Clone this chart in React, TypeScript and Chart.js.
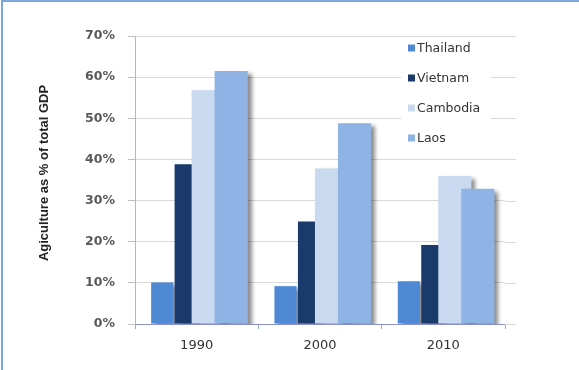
import React, { useEffect, useRef } from "react";
import { Chart, registerables } from "chart.js";

Chart.register(...registerables);

const categories = ["1990", "2000", "2010"];
const seriesNames = ["Thailand", "Vietnam", "Cambodia", "Laos"];
const thailand = [10.1, 9.2, 10.4];
const vietnam = [38.8, 24.9, 19.2];
const cambodia = [56.8, 37.8, 36.0];
const laos = [61.5, 48.8, 32.9];
const seriesColors = ["#4f89d4", "#1b3a6c", "#c8d9f0", "#8fb3e5"];
const yTitle = "Agiculture as % of total GDP";
const yMin = 0;
const yMax = 70;
const yStep = 10;

const FONT = "'DejaVu Sans', sans-serif";

const customDraw = {
  id: "customDraw",
  beforeDatasetsDraw(chart: any) {
    const { ctx, chartArea, scales } = chart;
    const y = scales.y;
    ctx.save();
    ctx.strokeStyle = "#d9d9d9";
    ctx.lineWidth = 1;
    y.ticks.forEach((t: any) => {
      const py = Math.round(y.getPixelForValue(t.value)) + 0.5;
      ctx.beginPath();
      ctx.moveTo(chartArea.right, py);
      ctx.lineTo(chartArea.right + 11, py);
      ctx.stroke();
    });
    ctx.fillStyle = "#ffffff";
    ctx.fillRect(chartArea.right - 104, chartArea.top + 3, 90, 114);
    ctx.restore();
  },
  beforeDatasetDraw() {
    return false;
  },
  afterDatasetsDraw(chart: any) {
    const { ctx, chartArea } = chart;
    ctx.save();
    ctx.beginPath();
    ctx.rect(chartArea.left, chartArea.top - 5, chartArea.right - chartArea.left + 20, chartArea.bottom - chartArea.top + 5);
    ctx.clip();
    for (let i = 0; i < chart.data.datasets.length; i++) {
      const meta = chart.getDatasetMeta(i);
      if (meta.hidden) continue;
      ctx.save();
      ctx.shadowColor = "rgba(0,0,0,0.45)";
      ctx.shadowOffsetX = 4;
      ctx.shadowOffsetY = 3;
      ctx.shadowBlur = 4;
      meta.controller.draw();
      ctx.restore();
    }
    ctx.restore();
    // legend
    ctx.save();
    ctx.font = `12.5px ${FONT}`;
    ctx.textBaseline = "middle";
    ctx.textAlign = "left";
    chart.data.datasets.forEach((ds: any, i: number) => {
      const cy = chartArea.top + 12 + i * 30;
      const sx = chartArea.right - 97;
      ctx.fillStyle = ds.backgroundColor;
      ctx.fillRect(sx, cy - 3.5, 7, 7);
      ctx.fillStyle = "#333333";
      ctx.fillText(ds.label, sx + 9, cy + 0.5);
    });
    ctx.restore();
  },
  afterDraw(chart: any) {
    const { ctx, chartArea } = chart;
    ctx.save();
    ctx.translate(44, (chartArea.top + chartArea.bottom) / 2 - 7);
    ctx.rotate(-Math.PI / 2);
    ctx.font = `bold 13px 'Liberation Sans', sans-serif`;
    ctx.fillStyle = "#222222";
    ctx.textAlign = "center";
    ctx.textBaseline = "middle";
    ctx.fillText(yTitle, 0, 0);
    ctx.restore();
    ctx.save();
    ctx.fillStyle = "#7da7d9";
    ctx.fillRect(1, 0, 2, chart.height);
    ctx.fillRect(1, 0, chart.width - 1, 2);
    ctx.restore();
  },
};

export default function App() {
  const ref = useRef<HTMLCanvasElement>(null);
  useEffect(() => {
    document.body.style.margin = "0";
    const seriesData = [thailand, vietnam, cambodia, laos];
    const barPct = [0.96, 0.92, 1.44, 1.44];
    const chart = new Chart(ref.current as HTMLCanvasElement, {
      type: "bar",
      data: {
        labels: categories,
        datasets: seriesNames.map((name, i) => ({
          label: name,
          data: seriesData[i],
          backgroundColor: seriesColors[i],
          borderWidth: 0,
          barPercentage: barPct[i],
          categoryPercentage: 0.746,
        })),
      },
      options: {
        responsive: false,
        animation: false,
        devicePixelRatio: 1,
        layout: { padding: { top: 36, right: 74, bottom: 0, left: 0 } },
        plugins: {
          legend: { display: false },
          tooltip: { enabled: false },
        },
        scales: {
          x: {
            afterFit: (s: any) => {
              s.height = 46;
            },
            grid: {
              display: true,
              drawOnChartArea: false,
              offset: true,
              tickLength: 5,
              color: "#8ea9db",
            },
            border: { color: "#8a90c8", width: 1 },
            ticks: {
              padding: 9,
              color: "#333333",
              font: { family: FONT, size: 13 },
            },
          },
          y: {
            min: yMin,
            max: yMax,
            afterFit: (s: any) => {
              s.width = 135;
            },
            grid: {
              color: "#d9d9d9",
              tickLength: 7,
              tickColor: "#bfbfbf",
            },
            border: { color: "#9dbbe2", width: 1 },
            ticks: {
              stepSize: yStep,
              padding: 13,
              color: "#595959",
              font: { family: FONT, size: 12.5, weight: "bold" },
              callback: (v: any) => v + "%",
            },
          },
        },
      },
      plugins: [customDraw],
    });
    return () => chart.destroy();
  }, []);
  return (
    <div style={{ width: 579, height: 370, background: "#fff" }}>
      <canvas ref={ref} width={579} height={370} style={{ display: "block" }} />
    </div>
  );
}
